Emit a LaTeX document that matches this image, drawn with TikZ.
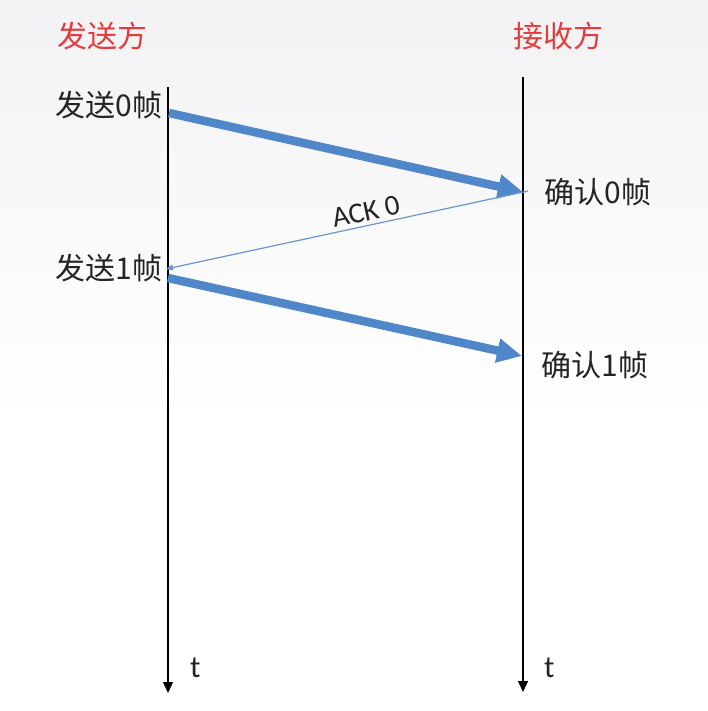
\documentclass[tikz,border=0pt]{standalone}
\usepackage{fontspec}
\setmainfont{Carlito}
\newfontfamily\cjk{Noto Sans CJK SC}
\usetikzlibrary{arrows.meta,positioning}
\definecolor{msgblue}{RGB}{79,135,200}
\definecolor{ackblue}{RGB}{105,150,208}
\definecolor{sidered}{RGB}{226,60,60}
\definecolor{txtgray}{RGB}{36,36,36}
\definecolor{bggray}{RGB}{242,242,244}
\tikzset{
  side/.style     = {font=\cjk\fontsize{30}{30}\selectfont, text=sidered, inner sep=0pt},
  event/.style    = {font=\cjk\fontsize{30}{30}\selectfont, text=txtgray, inner sep=0pt},
  tlabel/.style   = {font=\fontsize{31}{31}\selectfont, text=txtgray, inner sep=0pt},
  acklabel/.style = {font=\fontsize{29}{29}\selectfont, text=txtgray, inner sep=0pt},
  timeline/.style = {draw=black, line width=1.2pt, -{Triangle[width=10pt,length=11pt]}},
  frame/.style    = {draw=msgblue, line width=8.5pt, -{Triangle[width=23pt,length=25pt]}},
  ack/.style      = {draw=ackblue, line width=1.2pt, -{Triangle[width=6pt,length=7pt]}}
}

\begin{document}
\begin{tikzpicture}[x=1pt, y=-1pt]

% page and background
\useasboundingbox (0,0) rectangle (708,711);
\fill[white] (0,0) rectangle (708,711);
\shade[top color=bggray, bottom color=white] (0,0) rectangle (708,420);

% the two time lines
\coordinate (sTop) at (168,87);
\coordinate (sBot) at (168,693);
\coordinate (rTop) at (523,77);
\coordinate (rBot) at (523,692);
\draw[timeline] (sTop) -- (sBot);
\draw[timeline] (rTop) -- (rBot);

% sides
\node[side] (sender)   at (102,36) {发送方};
\node[side] (receiver) at (558,36) {接收方};

% ends of the messages
\coordinate (f0s) at (169,113);
\coordinate (f0e) at (523,192);
\coordinate (a0s) at (528,191);
\coordinate (a0e) at (166,269);
\coordinate (f1s) at (168,278);
\coordinate (f1e) at (522,356);

% messages
\draw[frame] (f0s) -- (f0e);
\draw[ack] (a0s) -- (a0e) node[pos=0.44, above=4pt, sloped, acklabel] (ack0) {ACK 0};
\draw[frame] (f1s) -- (f1e);

% events on the time lines
\node[event] (send0) at (109,105) {发送0帧};
\node[event] (conf0) at (598,192) {确认0帧};
\node[event] (send1) at (109,268) {发送1帧};
\node[event] (conf1) at (595,365) {确认1帧};

% time axis labels
\node[tlabel, right=22pt of sBot, yshift=25pt] (tS) {t};
\node[tlabel, right=21pt of rBot, yshift=24pt] (tR) {t};

\end{tikzpicture}
\end{document}
